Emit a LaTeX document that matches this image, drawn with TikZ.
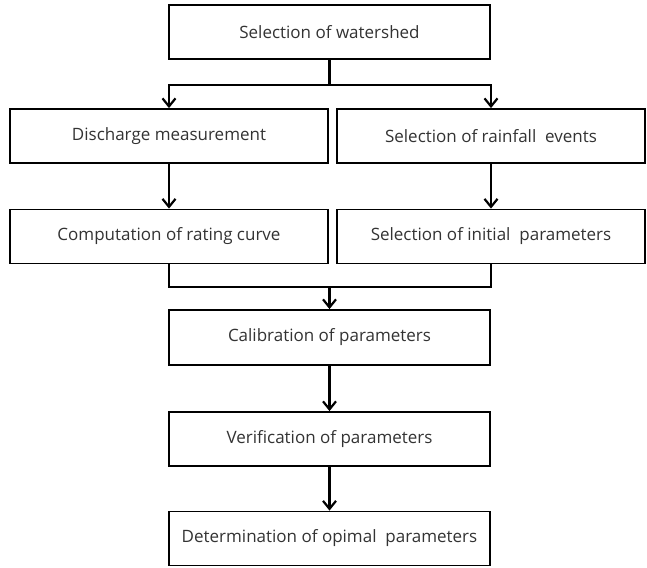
\documentclass[tikz,border=0pt]{standalone}
\definecolor{FInk}{HTML}{000000}
\definecolor{FText}{HTML}{333333}
\usepackage{fontspec}
\setmainfont{Open Sans}
\usepackage{tikz}
\usetikzlibrary{arrows.meta,positioning}
\tikzset{
  stepbox/.style={rectangle,draw=FInk,line width=1.8pt,fill=white,
    inner sep=0pt,minimum height=54pt,text=FText,font=\fontsize{17}{19}\selectfont},
  flow/.style={draw=FInk,line width=2.4pt},
  flowarrow/.style={flow,-{Straight Barb[length=8pt,width=13pt,line width=2.2pt]}}
}

\begin{document}
\begin{tikzpicture}[x=1pt,y=-1pt]
    \useasboundingbox (0,0) rectangle (647,567);
    % top
    \node[stepbox,minimum width=321pt] (watershed) at (329.5,32) {Selection of watershed};
    % two branches
    \node[stepbox,minimum width=318pt] (discharge) at (169,136) {Discharge measurement};
    \node[stepbox,minimum width=308pt] (rainfall) at (491,136) {Selection of rainfall\ \ events};
    \node[stepbox,minimum width=318pt] (rating) at (169,236.5) {Computation of rating curve};
    \node[stepbox,minimum width=308pt] (initial) at (491,236.5) {Selection of initial\ \ parameters};
    % main line
    \node[stepbox,minimum width=321pt,minimum height=55pt] (calib) at (329.5,337.5) {Calibration of parameters};
    \node[stepbox,minimum width=321pt] (verif) at (329.5,439) {Verification of parameters};
    \node[stepbox,minimum width=321pt] (optimal) at (329.5,538.5) {Determination of opimal\ \ parameters};

    \coordinate (split) at (329.5,85);
    \coordinate (merge) at (329.5,287);

    \draw[flow] (watershed.south) -- (split);
    \draw[flowarrow] (split) -| (discharge.north);
    \draw[flowarrow] (split) -| (rainfall.north);
    \draw[flowarrow] (discharge) -- (rating);
    \draw[flowarrow] (rainfall) -- (initial);
    \draw[flow] (rating.south) |- (merge);
    \draw[flow] (initial.south) |- (merge);
    \draw[flowarrow] (merge) -- (calib.north);
    \draw[flowarrow] (calib) -- (verif);
    \draw[flowarrow] (verif) -- (optimal);
\end{tikzpicture}
\end{document}
